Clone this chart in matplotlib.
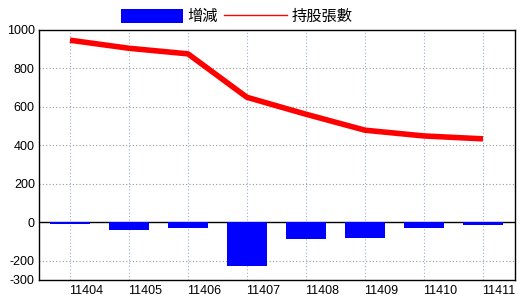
import matplotlib
matplotlib.use("Agg")
import matplotlib.pyplot as plt
from matplotlib.patches import Patch
from matplotlib.lines import Line2D

plt.rcParams['font.family'] = ['Liberation Sans', 'Noto Sans CJK TC', 'DejaVu Sans']
plt.rcParams['axes.unicode_minus'] = False

months = ['11404', '11405', '11406', '11407', '11408', '11409', '11410', '11411']
change = [-8, -42, -29, -226, -88, -83, -30, -15]
holding = [947, 905, 876, 650, 562, 479, 449, 434]

fig = plt.figure(figsize=(5.2, 3.0), dpi=100)
ax = fig.add_axes([0.075, 0.0667, 0.915, 0.8333])

x = list(range(len(months)))
ax.bar(x, change, width=0.68, color='#0000ff', zorder=3)
ax.plot(x, holding, color='#ff0000', linewidth=4, solid_capstyle='butt', zorder=4)

ax.set_xlim(-0.525, len(months) - 1 + 0.54)
ax.set_ylim(-300, 1000)
ax.set_yticks([-300, -200, 0, 200, 400, 600, 800, 1000])
ax.set_xticks(x)
ax.set_xticklabels([])
ax.tick_params(axis='both', length=0, labelsize=9, pad=3)
for i, m in enumerate(months):
    ax.text(i + 0.27, -0.02, m, transform=ax.get_xaxis_transform(),
            ha='center', va='top', fontsize=9)

for v in [-200, 200, 400, 600, 800]:
    ax.axhline(v, color='#999999', linestyle=(0, (1, 2)), linewidth=0.8, zorder=1)
for i in x:
    ax.axvline(i, color='#9ab0c8', linestyle=(0, (1, 2)), linewidth=0.8, zorder=1)
ax.axhline(0, color='black', linewidth=1, zorder=2)

for s in ax.spines.values():
    s.set_linewidth(1)

handles = [Patch(facecolor='#0000ff', edgecolor='none', label='增減'),
           Line2D([0], [0], color='#ff0000', linewidth=1, label='持股張數')]
fig.legend(handles=handles, loc='center', bbox_to_anchor=(0.455, 0.945), ncol=2,
           frameon=False, prop={'family': ['Noto Sans CJK TC'], 'size': 11},
           handlelength=4.1, handleheight=1.05,
           handletextpad=0.3, columnspacing=0.4, borderaxespad=0)

fig.savefig('out.png', dpi=100)
